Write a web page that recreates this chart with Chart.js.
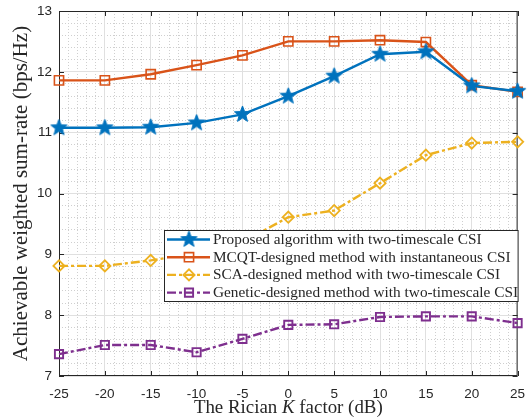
<!DOCTYPE html>
<html>
<head>
<meta charset="utf-8">
<script src="https://cdn.jsdelivr.net/npm/chart.js@4.4.0/dist/chart.umd.min.js"></script>
<style>
  html, body { margin: 0; padding: 0; background: #fff; }
  #wrap { width: 528px; height: 419px; }
</style>
</head>
<body>
<div id="wrap"><canvas id="rateChart"></canvas></div>
<script>
// Datos
const kFactor = [-25, -20, -15, -10, -5, 0, 5, 10, 15, 20, 25];
const proposedRate = [11.08, 11.08, 11.09, 11.16, 11.30, 11.60, 11.93, 12.29, 12.33, 11.77, 11.68];
const mcqtRate = [11.86, 11.86, 11.96, 12.11, 12.27, 12.50, 12.50, 12.52, 12.49, 11.78, 11.67];
const scaRate = [8.81, 8.81, 8.90, 9.02, 9.20, 9.61, 9.72, 10.17, 10.63, 10.83, 10.85];
const geneticRate = [7.36, 7.51, 7.51, 7.39, 7.61, 7.84, 7.85, 7.97, 7.98, 7.98, 7.87];
const seriesNames = [
  "Proposed algorithm with two-timescale CSI",
  "MCQT-designed method with instantaneous CSI",
  "SCA-designed method with two-timescale CSI",
  "Genetic-designed method with two-timescale CSI"
];
const xRange = [-25, 25];
const yRange = [7, 13];

const SERIF = "'Liberation Serif', 'Times New Roman', serif";
const SANS = "'Liberation Sans', Arial, sans-serif";
const TEXT = "#262626";

// Estrella rellena (pentagrama) como imagen para pointStyle
function makeStar(color, r) {
  const c = document.createElement("canvas");
  const s = Math.ceil(r * 2 + 2);
  c.width = s; c.height = s;
  const g = c.getContext("2d");
  g.beginPath();
  for (let i = 0; i < 10; i++) {
    const rr = i % 2 ? r * 0.42 : r;
    const a = -Math.PI / 2 + i * Math.PI / 5;
    g.lineTo(s / 2 + rr * Math.cos(a), s / 2 + rr * Math.sin(a));
  }
  g.closePath();
  g.fillStyle = color; g.fill();
  g.strokeStyle = color; g.lineWidth = 1; g.stroke();
  return c;
}
const starImg = makeStar("#0072BD", 8.5);

function toPoints(ys) {
  return kFactor.map((k, i) => ({ x: k, y: ys[i] }));
}

// Marco, ticks interiores, leyenda y titulo del eje x
const matlabDecor = {
  id: "matlabDecor",
  beforeDatasetsDraw(chart) {
    const { ctx, chartArea: a, scales } = chart;
    ctx.save();
    ctx.strokeStyle = TEXT;
    ctx.lineWidth = 1;
    ctx.strokeRect(a.left + 0.5, a.top + 0.5, a.right - a.left - 1, a.bottom - a.top - 1);
    ctx.beginPath();
    scales.x.ticks.forEach(t => {
      const px = Math.round(scales.x.getPixelForValue(t.value)) + 0.5;
      ctx.moveTo(px, a.bottom); ctx.lineTo(px, a.bottom - 5);
      ctx.moveTo(px, a.top); ctx.lineTo(px, a.top + 5);
    });
    scales.y.ticks.forEach(t => {
      const py = Math.round(scales.y.getPixelForValue(t.value)) + 0.5;
      ctx.moveTo(a.left, py); ctx.lineTo(a.left + 5, py);
      ctx.moveTo(a.right, py); ctx.lineTo(a.right - 5, py);
    });
    ctx.stroke();
    ctx.restore();
  },
  afterDatasetsDraw(chart) {
    const { ctx, chartArea: a } = chart;
    const box = { left: 164, top: 230, right: a.right + 1, bottom: 302 };
    ctx.save();
    ctx.fillStyle = "#fff";
    ctx.fillRect(box.left, box.top, box.right - box.left, box.bottom - box.top);
    ctx.strokeStyle = TEXT;
    ctx.lineWidth = 1;
    ctx.strokeRect(box.left + 0.5, box.top + 0.5, box.right - box.left - 1, box.bottom - box.top - 1);
    chart.data.datasets.forEach((ds, i) => {
      const y = box.top + 9.5 + i * 17.7;
      ctx.strokeStyle = ds.borderColor;
      ctx.lineWidth = ds.borderWidth;
      ctx.setLineDash(ds.borderDash || []);
      ctx.beginPath();
      ctx.moveTo(167, y); ctx.lineTo(210, y);
      ctx.stroke();
      ctx.setLineDash([]);
      const cx = 189;
      if (ds.pointStyle === starImg) {
        ctx.drawImage(starImg, cx - starImg.width / 2, y - starImg.height / 2);
      } else {
        ctx.lineWidth = ds.pointBorderWidth;
        ctx.beginPath();
        if (ds.pointStyle === "rectRot") {
          const r = ds.pointRadius;
          ctx.moveTo(cx - r, y); ctx.lineTo(cx, y - r); ctx.lineTo(cx + r, y); ctx.lineTo(cx, y + r);
          ctx.closePath();
        } else {
          const h = ds.pointRadius * Math.SQRT1_2;
          ctx.rect(cx - h, y - h, 2 * h, 2 * h);
        }
        ctx.stroke();
      }
      ctx.fillStyle = TEXT;
      ctx.font = "15.3px " + SERIF;
      ctx.textBaseline = "middle";
      ctx.textAlign = "left";
      ctx.fillText(chart.data.datasets[i].label, 213, y + 0.5);
    });
    ctx.restore();
  },
  afterDraw(chart) {
    // Titulo del eje x con K en cursiva
    const { ctx, chartArea: a } = chart;
    const parts = [["The Rician ", "normal"], ["K", "italic"], [" factor (dB)", "normal"]];
    ctx.save();
    ctx.fillStyle = TEXT;
    ctx.textBaseline = "middle";
    ctx.textAlign = "left";
    let total = 0;
    parts.forEach(p => { ctx.font = p[1] + " 18.9px " + SERIF; total += ctx.measureText(p[0]).width; });
    let x = (a.left + a.right) / 2 - total / 2;
    parts.forEach(p => {
      ctx.font = p[1] + " 18.9px " + SERIF;
      ctx.fillText(p[0], x, 408);
      x += ctx.measureText(p[0]).width;
    });
    ctx.restore();
  }
};

const ctxRate = document.getElementById("rateChart").getContext("2d");
new Chart(ctxRate, {
  type: "line",
  data: {
    datasets: [
      {
        label: seriesNames[0],
        data: toPoints(proposedRate),
        borderColor: "#0072BD",
        backgroundColor: "#0072BD",
        borderWidth: 2.4,
        pointStyle: starImg,
        pointRadius: 8,
        tension: 0,
        clip: false,
        xAxisID: "x", yAxisID: "y"
      },
      {
        label: seriesNames[1],
        data: toPoints(mcqtRate),
        borderColor: "#D95319",
        backgroundColor: "rgba(0,0,0,0)",
        borderWidth: 2.4,
        pointStyle: "rect",
        pointRadius: 6.5,
        pointBorderWidth: 1.6,
        tension: 0,
        clip: false,
        xAxisID: "x", yAxisID: "y"
      },
      {
        label: seriesNames[2],
        data: toPoints(scaRate),
        borderColor: "#EDB120",
        backgroundColor: "rgba(0,0,0,0)",
        borderWidth: 2.4,
        borderDash: [9, 3, 3, 3],
        pointStyle: "rectRot",
        pointRadius: 5.6,
        pointBorderWidth: 1.8,
        tension: 0,
        clip: false,
        xAxisID: "x", yAxisID: "y"
      },
      {
        label: seriesNames[3],
        data: toPoints(geneticRate),
        borderColor: "#7E2F8E",
        backgroundColor: "rgba(0,0,0,0)",
        borderWidth: 2.4,
        borderDash: [9, 3, 3, 3],
        pointStyle: "rect",
        pointRadius: 5.8,
        pointBorderWidth: 1.9,
        tension: 0,
        clip: false,
        xAxisID: "x", yAxisID: "y"
      }
    ]
  },
  options: {
    responsive: true,
    maintainAspectRatio: false,
    animation: false,
    layout: { padding: { top: 11, right: 4, left: 0, bottom: 0 } },
    plugins: {
      legend: { display: false },
      tooltip: { enabled: false }
    },
    scales: {
      // rejilla menor punteada
      x2: {
        type: "linear", position: "bottom",
        min: xRange[0], max: xRange[1],
        ticks: { display: false, stepSize: 1, maxTicksLimit: 200 },
        grid: { color: "#cfcfcf", lineWidth: 1, drawTicks: false, z: -2 },
        border: { display: false, dash: [1, 2] },
        afterFit: s => { s.height = 0; s.paddingLeft = 0; s.paddingRight = 0; }
      },
      y2: {
        type: "linear", position: "left",
        min: yRange[0], max: yRange[1],
        ticks: { display: false, stepSize: 0.2, maxTicksLimit: 200 },
        grid: { color: "#cfcfcf", lineWidth: 1, drawTicks: false, z: -2 },
        border: { display: false, dash: [1, 2] },
        afterFit: s => { s.width = 0; s.paddingTop = 0; s.paddingBottom = 0; }
      },
      x: {
        type: "linear", position: "bottom",
        min: xRange[0], max: xRange[1],
        ticks: { stepSize: 5, color: TEXT, font: { family: SANS, size: 13.5 }, padding: 10, maxRotation: 0, autoSkip: false },
        grid: { color: "#e0e0e0", lineWidth: 1, drawTicks: false, z: -1 },
        border: { display: false },
        afterFit: s => { s.height = 43; s.paddingLeft = 0; s.paddingRight = 0; }
      },
      y: {
        type: "linear", position: "left",
        min: yRange[0], max: yRange[1],
        ticks: { stepSize: 1, color: TEXT, font: { family: SANS, size: 13.5 }, padding: 7 },
        grid: { color: "#e0e0e0", lineWidth: 1, drawTicks: false, z: -1 },
        border: { display: false },
        title: {
          display: true,
          text: "Achievable weighted sum-rate (bps/Hz)",
          color: TEXT,
          font: { family: SERIF, size: 21 },
          padding: { top: 9, bottom: 0 }
        },
        afterFit: s => { s.width = 59; s.paddingTop = 0; s.paddingBottom = 0; }
      }
    }
  },
  plugins: [matlabDecor]
});
</script>
</body>
</html>
